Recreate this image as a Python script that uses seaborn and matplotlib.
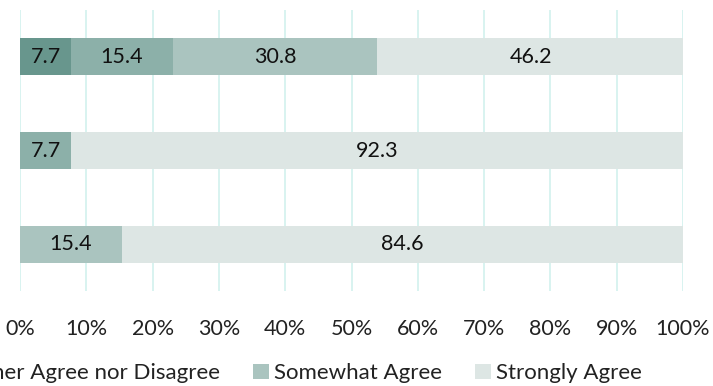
import numpy as np
import pandas as pd
import matplotlib
matplotlib.use("Agg")
import matplotlib.pyplot as plt
from matplotlib.patches import Patch
import seaborn as sns

# Survey responses (% of respondents) per statement
statements = ["Statement A", "Statement B", "Statement C"]
responses = ["Somewhat Disagree", "Neither Agree nor Disagree", "Somewhat Agree", "Strongly Agree"]
somewhat_disagree = [7.7, 0.0, 0.0]
neither = [15.4, 7.7, 0.0]
somewhat_agree = [30.8, 0.0, 15.4]
strongly_agree = [46.2, 92.3, 84.6]
tick_labels = ["0%", "10%", "20%", "30%", "40%", "50%", "60%", "70%", "80%", "90%", "100%"]

colors = ["#68968d", "#8cb0a9", "#aac4bf", "#dde6e4"]

sns.set_theme(style="white")
plt.rcParams["font.family"] = ["Lato", "DejaVu Sans"]
FS = 15.5

df = pd.DataFrame({
    "statement": statements,
    responses[0]: somewhat_disagree,
    responses[1]: neither,
    responses[2]: somewhat_agree,
    responses[3]: strongly_agree,
})
cum = df[responses].cumsum(axis=1)

fig = plt.figure(figsize=(7.13, 3.86), dpi=100)
ax = fig.add_axes([20 / 713, 95 / 386, 663 / 713, 281 / 386])

# stacked bars: draw cumulative totals from the outermost layer inward
for resp, col in zip(reversed(responses), reversed(colors)):
    sns.barplot(data=cum.assign(statement=df["statement"]), x=resp, y="statement",
                orient="h", color=col, width=0.395, saturation=1,
                linewidth=0, ax=ax, zorder=3)

# segment value labels
for i, st in enumerate(statements):
    left = 0.0
    for resp in responses:
        v = float(df.loc[i, resp])
        if v > 0:
            ax.text(left + v / 2, i, f"{v:.1f}", ha="center", va="center",
                    fontsize=FS, color="#111111", zorder=4)
        left += v

ax.set_xlim(0, 100)
ax.set_ylim(2.5, -0.5)
ax.set_xticks(np.arange(0, 101, 10))
ax.set_xticklabels(tick_labels)
ax.set_xlabel("")
ax.set_ylabel("")
ax.tick_params(axis="x", labelsize=FS, pad=20, length=0, colors="#222222")
ax.tick_params(axis="y", labelleft=False, length=0)
ax.grid(axis="x", color="#d2f1ed", linewidth=1.2, zorder=0)
ax.grid(axis="y", visible=False)
for s in ax.spines.values():
    s.set_visible(False)

handles = [Patch(facecolor=c, edgecolor="none") for c in colors]
fig.legend(handles, responses, loc="center right", bbox_to_anchor=(642 / 713, 1 - 373 / 386),
           ncol=4, frameon=False, fontsize=16, handlelength=0.68, handleheight=0.68,
           handletextpad=0.25, columnspacing=1.5, borderpad=0.0, borderaxespad=0.0,
           labelcolor="#222222")

fig.savefig("out.png", dpi=100)
